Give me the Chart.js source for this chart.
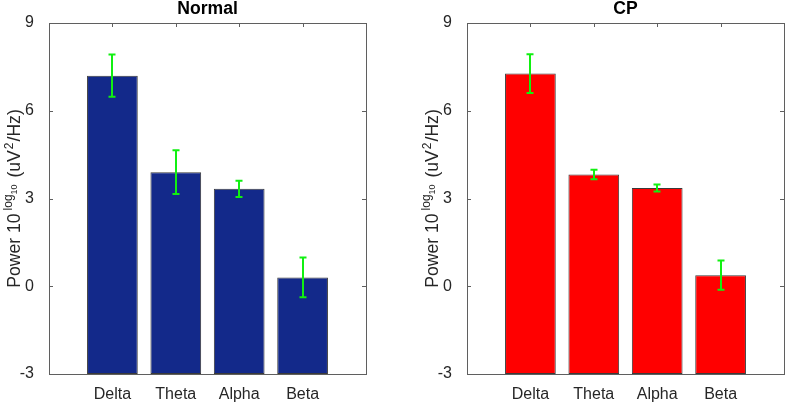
<!DOCTYPE html>
<html>
<head>
  <meta charset="UTF-8" />
  <title>Band power: Normal vs CP</title>
  <script src="https://cdn.jsdelivr.net/npm/chart.js"></script>
  <style>
    body { margin: 0; background: #fff; width: 787px; height: 402px; position: relative; overflow: hidden; }
    canvas { position: absolute; top: 0; }
    #chartNormal { left: 0; }
    #chartCP { left: 418px; }
  </style>
</head>
<body>
  <canvas id="chartNormal" width="369" height="402"></canvas>
  <canvas id="chartCP" width="369" height="402"></canvas>

  <script>
    const bands = ['Delta', 'Theta', 'Alpha', 'Beta'];
    const yTicks = [-3, 0, 3, 6, 9];

    const normalPower = [7.20, 3.90, 3.33, 0.30];
    const normalErr = [0.72, 0.75, 0.28, 0.68];

    const cpPower = [7.27, 3.82, 3.36, 0.38];
    const cpErr = [0.66, 0.16, 0.12, 0.50];

    const FONT = "'Liberation Sans', Arial, Helvetica, sans-serif";
    const AXIS = '#5f5f5f';
    const TEXT = '#262626';

    // box, inward ticks, error bars, title and the y label with super/subscripts
    const matlabLook = {
      id: 'matlabLook',
      afterDatasetsDraw(chart) {
        const ctx = chart.ctx;
        const xs = chart.scales.x, ys = chart.scales.y;
        const vals = chart.options.plugins.matlabLook.values;
        const errs = chart.options.plugins.matlabLook.errors;
        ctx.save();
        ctx.strokeStyle = '#11f011';
        ctx.lineWidth = 2;
        vals.forEach((v, i) => {
          const x = Math.round(xs.getPixelForValue(i + 1));
          const yTop = ys.getPixelForValue(v + errs[i]);
          const yBot = ys.getPixelForValue(v - errs[i]);
          ctx.beginPath();
          ctx.moveTo(x, yTop); ctx.lineTo(x, yBot);
          ctx.moveTo(x - 3.5, yTop); ctx.lineTo(x + 3.5, yTop);
          ctx.moveTo(x - 3.5, yBot); ctx.lineTo(x + 3.5, yBot);
          ctx.stroke();
        });
        ctx.restore();
      },
      afterDraw(chart) {
        const ctx = chart.ctx;
        const a = chart.chartArea;
        const xs = chart.scales.x, ys = chart.scales.y;
        ctx.save();
        ctx.strokeStyle = AXIS;
        ctx.lineWidth = 1;
        ctx.strokeRect(Math.round(a.left) + 0.5, Math.round(a.top) + 0.5,
          Math.round(a.right - a.left), Math.round(a.bottom - a.top));
        ctx.beginPath();
        yTicks.forEach(t => {
          const y = Math.round(ys.getPixelForValue(t)) + 0.5;
          ctx.moveTo(a.left, y); ctx.lineTo(a.left + 4, y);
          ctx.moveTo(a.right, y); ctx.lineTo(a.right - 4, y);
        });
        bands.forEach((b, i) => {
          const x = Math.round(xs.getPixelForValue(i + 1)) + 0.5;
          ctx.moveTo(x, a.top); ctx.lineTo(x, a.top + 4);
        });
        ctx.stroke();

        // title
        ctx.fillStyle = '#000';
        ctx.font = 'bold 17.6px ' + FONT;
        ctx.textAlign = 'center';
        ctx.textBaseline = 'middle';
        ctx.fillText(chart.options.plugins.matlabLook.title, (a.left + a.right) / 2, 9);

        // y label: Power 10^{log_10} (uV^2/Hz)
        const parts = [
          { t: 'Power 10', size: 17.6, dy: 0, gap: 3 },
          { t: 'log', size: 12, dy: -8, gap: 0 },
          { t: '10', size: 9, dy: -3, gap: 2 },
          { t: ' (uV', size: 17.6, dy: 0, gap: 1 },
          { t: '2', size: 12, dy: -7, gap: 1 },
          { t: '/Hz)', size: 17.6, dy: 0, gap: 0 }
        ];
        ctx.fillStyle = TEXT;
        ctx.textAlign = 'left';
        ctx.textBaseline = 'alphabetic';
        let total = 0;
        parts.forEach(p => { ctx.font = p.size + 'px ' + FONT; p.w = ctx.measureText(p.t).width; total += p.w + p.gap; });
        ctx.translate(20, (a.top + a.bottom) / 2);
        ctx.rotate(-Math.PI / 2);
        let x = -total / 2;
        parts.forEach(p => {
          ctx.font = p.size + 'px ' + FONT;
          ctx.fillText(p.t, x, p.dy);
          x += p.w + p.gap;
        });
        ctx.restore();
      }
    };

    function makeChart(id, title, values, errors, color) {
      return new Chart(document.getElementById(id), {
        type: 'bar',
        data: {
          datasets: [{
            data: values.map((v, i) => ({ x: i + 1, y: v })),
            backgroundColor: color,
            borderColor: '#3a3a3a',
            borderWidth: 1,
            borderSkipped: false,
            base: -3,
            barPercentage: 0.8,
            categoryPercentage: 1
          }]
        },
        options: {
          responsive: false,
          animation: false,
          layout: { padding: { top: 23, right: 3, left: 0, bottom: 0 } },
          plugins: {
            legend: { display: false },
            tooltip: { enabled: false },
            matlabLook: { title: title, values: values, errors: errors }
          },
          scales: {
            x: {
              type: 'linear',
              min: 0,
              max: 5,
              offset: false,
              grid: { display: false, offset: false },
              border: { display: false },
              afterBuildTicks: s => { s.ticks = bands.map((b, i) => ({ value: i + 1 })); },
              afterFit: s => { s.height = 28; },
              ticks: {
                callback: v => bands[v - 1] || '',
                font: { family: FONT, size: 16 },
                color: TEXT,
                padding: 3,
                maxRotation: 0,
                autoSkip: false
              }
            },
            y: {
              min: -3,
              max: 9,
              grid: { display: false },
              border: { display: false },
              afterBuildTicks: s => { s.ticks = yTicks.map(v => ({ value: v })); },
              afterFit: s => { s.width = 49; },
              ticks: {
                font: { family: FONT, size: 16 },
                color: TEXT,
                padding: 7
              }
            }
          }
        },
        plugins: [matlabLook]
      });
    }

    makeChart('chartNormal', 'Normal', normalPower, normalErr, '#13298a');
    makeChart('chartCP', 'CP', cpPower, cpErr, '#ff0000');
  </script>
</body>
</html>
